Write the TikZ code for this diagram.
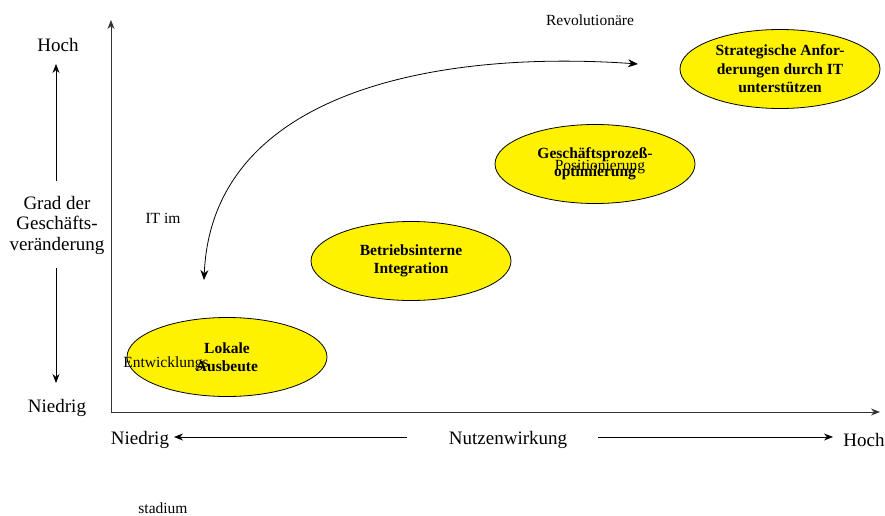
\documentclass[tikz,border=0pt]{standalone}
\usepackage{fontspec}
\setmainfont{Liberation Serif}
\usetikzlibrary{shapes.geometric,arrows.meta}
\begin{document}
\begin{tikzpicture}[x=1pt,y=-1pt,
  stage/.style={ellipse,draw=black,line width=0.8pt,fill=yellow,minimum width=200pt,minimum height=79pt,inner sep=0pt,align=center,font=\fontsize{15.5}{18.5}\selectfont\bfseries},
  lbl/.style={font=\fontsize{19}{20.5}\selectfont,inner sep=0pt,align=center},
  small/.style={font=\fontsize{15.5}{17}\selectfont,inner sep=0pt},
  arr/.style={-{Stealth[length=9pt,width=7pt]},line width=0.8pt}]
\useasboundingbox (0,0) rectangle (885,516);
% axes
\coordinate (o) at (111,412);
\coordinate (ytop) at (111,20);
\coordinate (xend) at (880,412);
\draw[arr,line width=1pt,draw=black!80] (o) -- (ytop);
\draw[arr,line width=1pt,draw=black!80] (o) -- (xend);
% vertical scale
\node[lbl] (vhoch) at (58,45) {Hoch};
\node[lbl] (vgrad) at (57,225) {Grad der\\Geschäfts-\\veränderung};
\node[lbl] (vnied) at (57,408) {Niedrig};
\coordinate (vup0) at (56,181);
\coordinate (vup1) at (56,64);
\coordinate (vdn0) at (56,268);
\coordinate (vdn1) at (56,383);
\draw[arr] (vup0) -- (vup1);
\draw[arr] (vdn0) -- (vdn1);
% horizontal scale
\node[lbl] (hnied) at (140,440) {Niedrig};
\node[lbl] (hnutz) at (508,440) {Nutzenwirkung};
\node[lbl] (hhoch) at (864,440) {Hoch};
\coordinate (hl0) at (407,437);
\coordinate (hl1) at (174,437);
\coordinate (hr0) at (598,437);
\coordinate (hr1) at (833,437);
\draw[arr] (hl0) -- (hl1);
\draw[arr] (hr0) -- (hr1);
% stages
\node[stage] (s1) at (227,357) {Lokale\\Ausbeute};
\node[stage] (s2) at (411,261) {Betriebsinterne\\Integration};
\node[stage] (s3) at (595,164) {Geschäftsprozeß-\\optimierung};
\node[stage] (s4) at (780,69) {Strategische Anfor-\\derungen durch IT\\unterstützen};
% curved double arrow
\coordinate (c0) at (204,280);
\coordinate (c1) at (638,64);
\draw[{Stealth[length=10pt,width=8pt]}-{Stealth[length=10pt,width=8pt]},line width=0.8pt] (c0) .. controls (212,90) and (440,50) .. (c1);
% free labels
\node[small] (rev) at (590,20) {Revolutionäre};
\node[small] (itim) at (163,218) {IT im};
\node[small] (entw) at (166,364) {Entwicklungs};
\node[small] (pos) at (600,167) {Positionierung};
\node[small] (stad) at (163,508) {stadium};
\end{tikzpicture}
\end{document}
